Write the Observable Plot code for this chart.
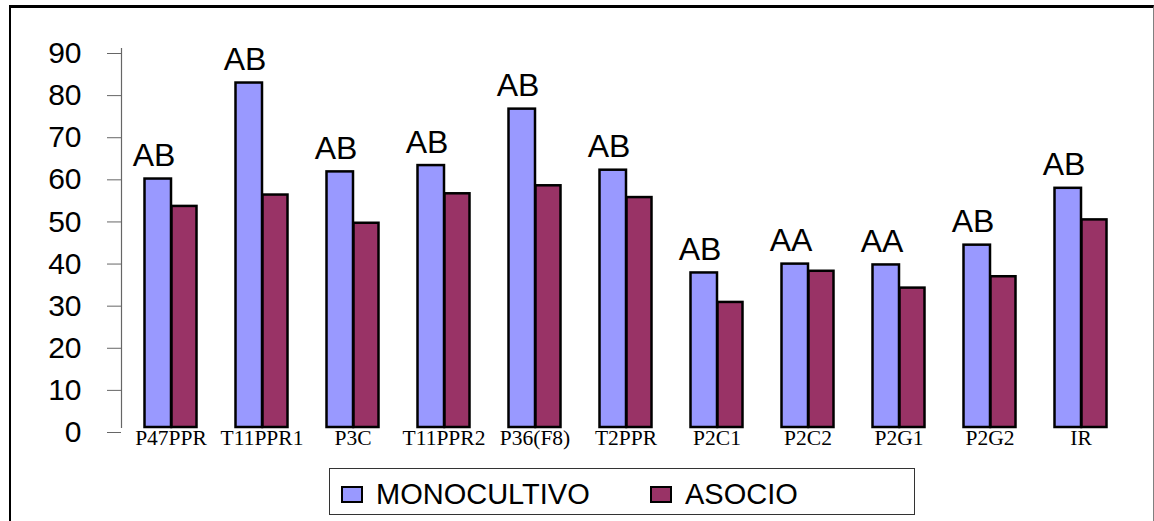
<!DOCTYPE html>
<html>
<head>
<meta charset="utf-8">
<script src="https://cdn.jsdelivr.net/npm/d3@7"></script>
<script src="https://cdn.jsdelivr.net/npm/@observablehq/plot@0.6"></script>
<style>
  html, body { margin: 0; padding: 0; background: #fff; overflow: hidden; }
  #wrap { position: relative; width: 1154px; height: 521px; }
  #frame {
    position: absolute; left: 9px; top: 5px; width: 1145px; height: 600px;
    box-sizing: border-box;
    border-left: 2px solid #000; border-top: 3px solid #000; border-right: 1px solid #808080;
  }
  #chart { position: absolute; left: 0; top: 0; }
  #legend {
    position: absolute; left: 329px; top: 468px; width: 586px; height: 47px;
    box-sizing: border-box; border: 1px solid #333; background: #fff;
    font-family: "Liberation Sans", Arial, sans-serif; font-size: 29px; color: #000;
  }
  .item { position: absolute; top: 3px; height: 45px; display: flex; align-items: center; }
  .sw { width: 18px; height: 13px; border: 2px solid #000; margin-right: 13px; }
</style>
</head>
<body>
<div id="wrap">
  <div id="frame"></div>
  <div id="chart"></div>
  <div id="legend"></div>
</div>
<script>
// Genotypes along the x axis
const categories = ["P47PPR", "T11PPR1", "P3C", "T11PPR2", "P36(F8)", "T2PPR", "P2C1", "P2C2", "P2G1", "P2G2", "IR"];
// Values per cropping system
const monocultivo = [59.0, 81.8, 60.7, 62.2, 75.6, 61.1, 36.7, 38.8, 38.6, 43.3, 56.8];
const asocio = [52.5, 55.2, 48.5, 55.5, 57.4, 54.6, 29.7, 37.1, 33.1, 35.8, 49.3];
// Significance letters over each group
const letters = ["AB", "AB", "AB", "AB", "AB", "AB", "AB", "AA", "AA", "AB", "AB"];
const series = ["MONOCULTIVO", "ASOCIO"];
const colors = ["#9999FF", "#993366"];
const yTicks = [0, 10, 20, 30, 40, 50, 60, 70, 80, 90];

const mono = categories.map((c, i) => ({cat: c, value: monocultivo[i], label: letters[i]}));
const aso = categories.map((c, i) => ({cat: c, value: asocio[i]}));

const barStyle = {stroke: "#000", strokeWidth: 2.5};

const chart = Plot.plot({
  width: 1154,
  height: 460,
  marginLeft: 121,
  marginRight: 25,
  marginTop: 48,
  marginBottom: 33,
  style: {background: "transparent"},
  x: {domain: categories, padding: 0, axis: null},
  y: {domain: [0, 90], axis: null},
  marks: [
    Plot.frame({anchor: "left", stroke: "#666", strokeWidth: 1.2}),
    Plot.axisY({
      ticks: yTicks, tickSize: 14, tickPadding: 26, stroke: "#666",
      fontSize: 30, fontFamily: "Liberation Sans, Arial, sans-serif",
      fill: "#000", dy: 5, label: null
    }),
    Plot.axisX({
      tickSize: 0, tickPadding: 2, fontSize: 21.5,
      fontFamily: "Liberation Serif, Times New Roman, serif", fill: "#000", label: null
    }),
    Plot.barY(mono, {x: "cat", y: "value", fill: colors[0], insetLeft: 19.5, insetRight: 45, ...barStyle}),
    Plot.barY(aso, {x: "cat", y: "value", fill: colors[1], insetLeft: 46.5, insetRight: 19.5, ...barStyle}),
    Plot.text(mono, {
      x: "cat", y: "value", text: "label", dx: -17, dy: -13, lineAnchor: "bottom",
      fontSize: 32, fontFamily: "Liberation Sans, Arial, sans-serif", fill: "#000"
    })
  ]
});
document.getElementById("chart").appendChild(chart);

// Legend below the plot
const legend = document.getElementById("legend");
const positions = [11, 320];
series.forEach((s, i) => {
  const item = document.createElement("div");
  item.className = "item";
  item.style.left = positions[i] + "px";
  const sw = document.createElement("div");
  sw.className = "sw";
  sw.style.background = colors[i];
  const t = document.createElement("span");
  t.textContent = s;
  item.appendChild(sw);
  item.appendChild(t);
  legend.appendChild(item);
});
</script>
</body>
</html>
